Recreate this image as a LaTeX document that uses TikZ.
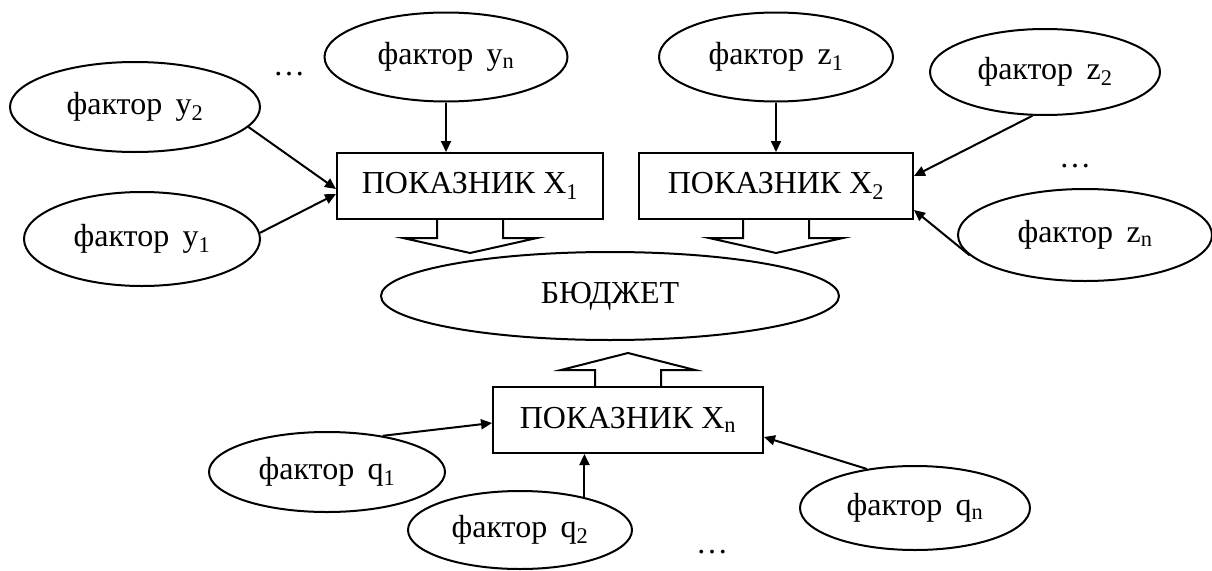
\documentclass[tikz,border=0pt]{standalone}
\usepackage{fontspec}
\setmainfont{Liberation Serif}
\usetikzlibrary{shapes.geometric,arrows.meta}

\newcommand{\fct}[2]{фактор\hspace{0.42em}#1\textsubscript{#2}}

\tikzset{
  factor/.style={draw, ellipse, line width=2pt, inner sep=0pt},
  indicator/.style={draw, rectangle, line width=2pt, inner sep=0pt, minimum height=66pt},
  link/.style={line width=2pt, -{Triangle[length=11pt,width=10pt]}},
  bigarrow/.style={line width=2pt, line join=miter}
}

\begin{document}
\begin{tikzpicture}[x=1pt, y=-1pt, font=\fontsize{32}{36}\selectfont]
\useasboundingbox (0,0) rectangle (1212,570);

% Budget in the middle
\node[factor, minimum width=458pt, minimum height=88pt] (budget) at (610,296) {БЮДЖЕТ};

% Indicator X1 and its factors
\node[indicator, minimum width=266pt] (x1) at (470,186) {ПОКАЗНИК X\textsubscript{1}};
\node[factor, minimum width=243pt, minimum height=89pt] (yn) at (446,57) {\fct{y}{n}};
\node[factor, minimum width=250pt, minimum height=90pt] (y2) at (135,107) {\fct{y}{2}};
\node[factor, minimum width=236pt, minimum height=94pt] (y1) at (142,239) {\fct{y}{1}};
\node (dotsy) at (289,74) {\dots};
\draw[link] (yn.south) -- (yn.south |- x1.north);
\draw[link] (y2.-10) -- ([yshift=-3pt]x1.west);
\draw[link] (y1.3) -- ([yshift=-8pt]x1.west);

% Indicator X2 and its factors
\node[indicator, minimum width=274pt] (x2) at (776,186) {ПОКАЗНИК X\textsubscript{2}};
\node[factor, minimum width=234pt, minimum height=89pt] (z1) at (776,57) {\fct{z}{1}};
\node[factor, minimum width=230pt, minimum height=86pt] (z2) at (1045,72) {\fct{z}{2}};
\node[factor, minimum width=254pt, minimum height=92pt] (zn) at (1085,235) {\fct{z}{n}};
\node (dotsz) at (1075,166) {\dots};
\draw[link] (z1.south) -- (z1.south |- x2.north);
\draw[link] (z2.254) -- ([yshift=10pt]x2.east);
\draw[link] (zn.190) -- ([yshift=-24pt]x2.east);

% Indicator Xn and its factors
\node[indicator, minimum width=270pt] (xn) at (628,420) {ПОКАЗНИК X\textsubscript{n}};
\node[factor, minimum width=236pt, minimum height=80pt] (q1) at (327,472) {\fct{q}{1}};
\node[factor, minimum width=224pt, minimum height=78pt] (q2) at (520,530) {\fct{q}{2}};
\node[factor, minimum width=230pt, minimum height=84pt] (qn) at (915,508) {\fct{q}{n}};
\node (dotsq) at (712,552) {\dots};
\draw[link] (q1.33) -- ([yshift=-3pt]xn.west);
\draw[link] (q2.27.6) -- (q2.27.6 |- xn.south);
\draw[link] (qn.141) -- ([yshift=-17pt]xn.east);

% Wide arrows to and from the budget
\foreach \b in {x1,x2}
  \draw[bigarrow] ([xshift=-33pt]\b.south) -- ++(0,18) -- ++(-34,0) -- ++(67,15)
    -- ++(67,-15) -- ++(-34,0) -- ++(0,-18);
\draw[bigarrow] ([xshift=-33pt]xn.north) -- ++(0,-16) -- ++(-34,0) -- ++(67,-17)
    -- ++(67,17) -- ++(-34,0) -- ++(0,16);
\end{tikzpicture}
\end{document}
